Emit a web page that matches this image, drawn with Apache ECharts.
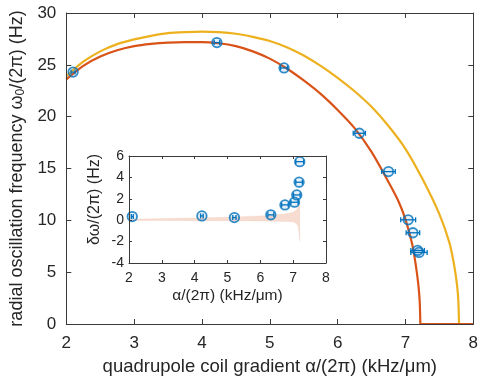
<!DOCTYPE html>
<html>
<head>
<meta charset="utf-8">
<script src="https://cdn.jsdelivr.net/npm/echarts@6/dist/echarts.min.js"></script>
<style>html,body{margin:0;padding:0;background:#fff;}#c{width:481px;height:381px;}</style>
</head>
<body>
<div id="c"></div>
<script>
// ---- data ----
const ptAlpha = [2.1, 4.22, 5.21, 6.32, 6.75, 7.04, 7.11, 7.18, 7.2];
const ptAlphaErr = [0.03, 0.04, 0.05, 0.09, 0.1, 0.11, 0.1, 0.1, 0.12];
const ptOmega = [24.3, 27.15, 24.7, 18.4, 14.7, 10.05, 8.8, 7.1, 6.9];
const ptDelta = [0.34, 0.4, 0.25, 0.5, 1.43, 1.68, 2.36, 3.55, 5.47];

const redAlpha = [2.0, 2.25, 2.5, 2.75, 3.0, 3.25, 3.5, 3.75, 4.0, 4.25, 4.5, 4.75, 5.0, 5.25, 5.5, 5.75, 6.0, 6.25, 6.5, 6.75, 6.9, 7.0, 7.1, 7.15, 7.19, 7.21, 7.22];
const redOmega = [23.6, 24.9, 25.8, 26.4, 26.8, 27.02, 27.15, 27.2, 27.2, 27.08, 26.8, 26.3, 25.6, 24.65, 23.5, 22.2, 20.65, 18.9, 16.6, 13.7, 11.8, 10.1, 7.7, 5.8, 3.8, 2.2, 0];
const tailAlpha = [7.22, 8.0];
const tailOmega = [0, 0];

const yelAlpha = [2.0, 2.25, 2.5, 2.75, 3.0, 3.25, 3.5, 3.75, 4.0, 4.25, 4.5, 4.75, 5.0, 5.25, 5.5, 5.75, 6.0, 6.25, 6.5, 6.75, 7.0, 7.25, 7.5, 7.65, 7.72, 7.76, 7.78, 7.79];
const yelOmega = [23.9, 25.3, 26.3, 27.0, 27.45, 27.8, 28.05, 28.15, 28.2, 28.15, 28.0, 27.7, 27.3, 26.7, 25.9, 24.9, 23.75, 22.45, 20.95, 19.1, 16.9, 14.0, 10.6, 7.8, 5.6, 3.8, 2.2, 0];

const bandAlpha = [2.0, 3.0, 4.0, 5.0, 6.0, 6.5, 6.8, 7.0, 7.1, 7.15, 7.18, 7.2];
const bandHigh = [0.1, 0.15, 0.2, 0.28, 0.4, 0.5, 0.6, 0.75, 0.95, 1.2, 1.5, 1.8];
const bandLow = [-0.02, -0.03, -0.04, -0.05, -0.07, -0.1, -0.12, -0.15, -0.3, -0.6, -1.2, -2.0];

const mainXTicks = [2, 8, 1];
const mainYTicks = [0, 30, 5];
const insetXTicks = [2, 8, 1];
const insetYTicks = [-4, 6, 2];

// ---- styling ----
const FONT = 'Liberation Sans, Arial, sans-serif';
const AX = '#262626';
const BLUE = '#0072BD', RED = '#D95319', YEL = '#EDB120';
const zip = (a, b) => a.map((v, i) => [v, b[i]]);

function axisDef(gi, pos, show, range, fs, tickLen, labelMargin) {
  return {
    type: 'value', gridIndex: gi, position: pos, min: range[0], max: range[1], interval: range[2],
    z: 10,
    axisLine: { show: true, onZero: false, lineStyle: { color: '#3a3a3a', width: 1 } },
    axisTick: { show: true, inside: true, length: tickLen, lineStyle: { color: '#3a3a3a' } },
    axisLabel: { show: show, color: AX, fontSize: fs, fontFamily: FONT, margin: labelMargin },
    splitLine: { show: false }
  };
}

const xAxes = [
  Object.assign(axisDef(0, 'bottom', true, mainXTicks, 17, 5, 11), {
    name: 'quadrupole coil gradient α/(2π) (kHz/μm)', nameLocation: 'middle', nameGap: 33,
    nameTextStyle: { color: AX, fontSize: 18.5, fontFamily: FONT }
  }),
  axisDef(0, 'top', false, mainXTicks, 17, 5, 8),
  Object.assign(axisDef(1, 'bottom', true, insetXTicks, 14, 3, 8), {
    name: 'α/(2π) (kHz/μm)', nameLocation: 'middle', nameGap: 25,
    nameTextStyle: { color: AX, fontSize: 15.5, fontFamily: FONT }
  }),
  axisDef(1, 'top', false, insetXTicks, 14, 3, 8)
];
const yAxes = [
  Object.assign(axisDef(0, 'left', true, mainYTicks, 17, 5, 10), {
    name: 'radial oscillation frequency ω{sub|0}/(2π) (Hz)', nameLocation: 'middle', nameGap: 38,
    nameTextStyle: { color: AX, fontSize: 18, fontFamily: FONT,
      rich: { sub: { fontSize: 12, fontFamily: FONT, color: AX, verticalAlign: 'bottom', padding: [7, 0, 0, 0] } } }
  }),
  axisDef(0, 'right', false, mainYTicks, 17, 5, 8),
  Object.assign(axisDef(1, 'left', true, insetYTicks, 14, 3, 5), {
    name: 'δω/(2π) (Hz)', nameLocation: 'middle', nameGap: 26,
    nameTextStyle: { color: AX, fontSize: 16, fontFamily: FONT, padding: [0, 0, 0, 20] }
  }),
  axisDef(1, 'right', false, insetYTicks, 14, 3, 8)
];

function errRender(params, api) {
  const x = api.value(0), y = api.value(1), e = api.value(2);
  const p1 = api.coord([x - e, y]), p2 = api.coord([x + e, y]);
  const c = 2.5;
  const st = { stroke: BLUE, lineWidth: 1.3 };
  return {
    type: 'group',
    children: [
      { type: 'line', shape: { x1: p1[0], y1: p1[1], x2: p2[0], y2: p2[1] }, style: st },
      { type: 'line', shape: { x1: p1[0], y1: p1[1] - c, x2: p1[0], y2: p1[1] + c }, style: st },
      { type: 'line', shape: { x1: p2[0], y1: p2[1] - c, x2: p2[0], y2: p2[1] + c }, style: st }
    ]
  };
}
function bandRender(params, api) {
  if (params.dataIndex !== 0) return null;
  const pts = [];
  for (let i = 0; i < bandAlpha.length; i++) pts.push(api.coord([bandAlpha[i], bandHigh[i]]));
  for (let i = bandAlpha.length - 1; i >= 0; i--) pts.push(api.coord([bandAlpha[i], bandLow[i]]));
  return { type: 'polygon', shape: { points: pts, smooth: 0 }, style: { fill: 'rgba(217,83,25,0.2)', stroke: 'rgba(217,83,25,0.12)', lineWidth: 0.6 } };
}

const markerStyle = { color: 'rgba(0,114,189,0.12)', borderColor: BLUE, borderWidth: 1.8 };

const option = {
  animation: false,
  backgroundColor: '#fff',
  grid: [
    { left: 65, top: 13, width: 411, height: 313, show: false },
    { left: 129, top: 156, width: 197, height: 107, show: true, backgroundColor: '#fff', borderWidth: 0 }
  ],
  xAxis: xAxes,
  yAxis: yAxes,
  series: [
    { type: 'line', xAxisIndex: 0, yAxisIndex: 0, data: zip(yelAlpha, yelOmega), showSymbol: false, smooth: 0.25,
      lineStyle: { color: YEL, width: 2.2 }, z: 2 },
    { type: 'line', xAxisIndex: 0, yAxisIndex: 0, data: zip(redAlpha, redOmega), showSymbol: false, smooth: 0.25,
      lineStyle: { color: RED, width: 2.2 }, z: 3 },
    { type: 'line', xAxisIndex: 0, yAxisIndex: 0, data: zip(tailAlpha, tailOmega), showSymbol: false,
      lineStyle: { color: RED, width: 2.2 }, z: 3 },
    { type: 'custom', xAxisIndex: 0, yAxisIndex: 0, renderItem: errRender,
      data: ptAlpha.map((a, i) => [a, ptOmega[i], ptAlphaErr[i]]), z: 4 },
    { type: 'scatter', xAxisIndex: 0, yAxisIndex: 0, data: zip(ptAlpha, ptOmega), symbol: 'circle', symbolSize: 9.5,
      itemStyle: markerStyle, z: 5 },
    { type: 'custom', xAxisIndex: 2, yAxisIndex: 2, renderItem: bandRender, data: [[2, 0]], z: 6 },
    { type: 'custom', xAxisIndex: 2, yAxisIndex: 2, renderItem: errRender,
      data: ptAlpha.map((a, i) => [a, ptDelta[i], ptAlphaErr[i]]), z: 7 },
    { type: 'scatter', xAxisIndex: 2, yAxisIndex: 2, data: zip(ptAlpha, ptDelta), symbol: 'circle', symbolSize: 9.5,
      itemStyle: markerStyle, z: 8 }
  ]
};
const chart = echarts.init(document.getElementById('c'), null, { renderer: 'canvas' });
chart.setOption(option);
</script>
</body>
</html>
